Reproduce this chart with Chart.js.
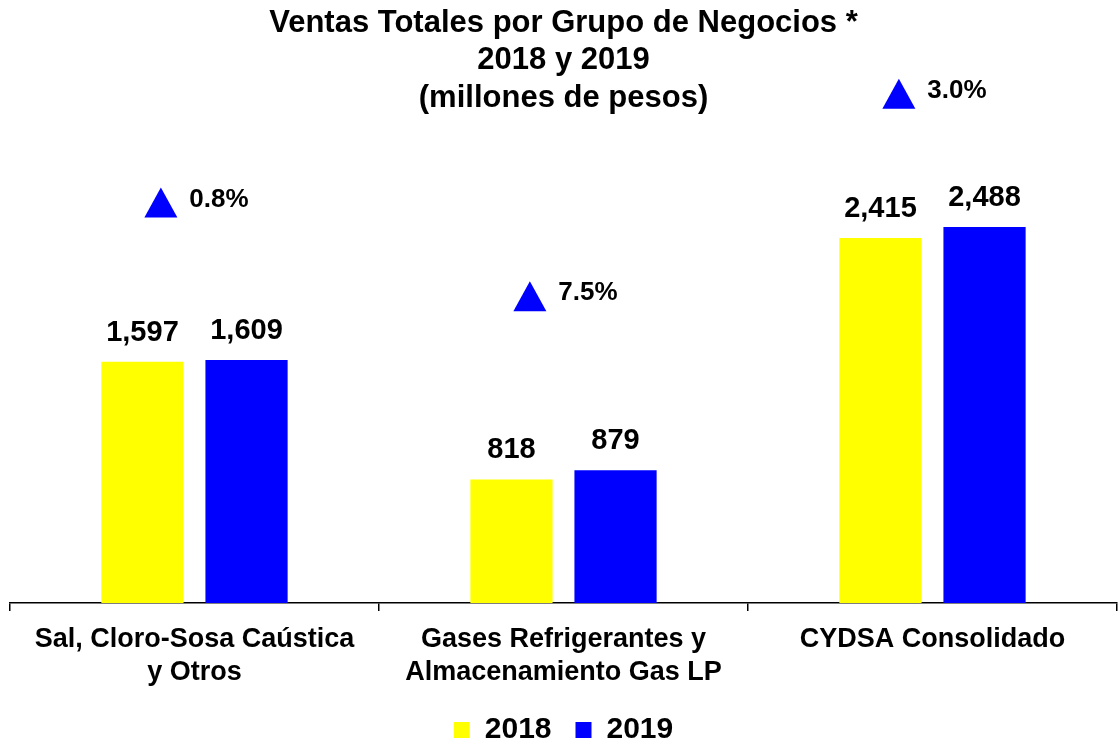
<!DOCTYPE html>
<html>
<head>
<meta charset="utf-8">
<script src="https://cdn.jsdelivr.net/npm/chart.js@4.4.1/dist/chart.umd.min.js"></script>
<style>
  html, body { margin: 0; padding: 0; background: #ffffff; }
  #wrap { width: 1120px; height: 745px; }
</style>
</head>
<body>
<div id="wrap"><canvas id="c" width="1120" height="745"></canvas></div>
<script>
// ---- data ----
const categories = [
  ['Sal, Cloro-Sosa Caústica', 'y Otros'],
  ['Gases Refrigerantes y', 'Almacenamiento Gas LP'],
  ['CYDSA Consolidado']
];
const seriesNames = ['2018', '2019'];
const sales2018 = [1597, 818, 2415];
const sales2019 = [1609, 879, 2488];
const changeLabels = ['0.8%', '7.5%', '3.0%'];
const changeLevels = [2650, 2030, 3370];   // level (in millions) where each change marker sits
const titleLines = ['Ventas Totales por Grupo de Negocios *', '2018 y 2019', '(millones de pesos)'];

const FONT = '"Liberation Sans", Arial, Helvetica, sans-serif';

const labelPlugin = {
  id: 'labels',
  afterDatasetsDraw(chart) {
    const ctx = chart.ctx;
    ctx.save();
    ctx.fillStyle = '#000';
    ctx.font = 'bold 29px ' + FONT;
    ctx.textAlign = 'center';
    ctx.textBaseline = 'alphabetic';
    chart.data.datasets.forEach((ds, di) => {
      const meta = chart.getDatasetMeta(di);
      meta.data.forEach((bar, i) => {
        ctx.fillText(ds.data[i].toLocaleString('en-US'), bar.x, bar.y - 21);
      });
    });
    // change markers
    const xs = chart.scales.x, ys = chart.scales.y;
    ctx.font = 'bold 26px ' + FONT;
    ctx.textAlign = 'left';
    changeLabels.forEach((txt, i) => {
      const cx = xs.getPixelForValue(i);
      const cy = ys.getPixelForValue(changeLevels[i]);
      const triW = 33, triH = 30, gap = 12;
      const tw = ctx.measureText(txt).width;
      const total = triW + gap + tw;
      const left = cx - total / 2 + 2;
      ctx.fillStyle = '#0000FF';
      ctx.beginPath();
      ctx.moveTo(left, cy + triH / 2);
      ctx.lineTo(left + triW / 2, cy - triH / 2);
      ctx.lineTo(left + triW, cy + triH / 2);
      ctx.closePath();
      ctx.fill();
      ctx.fillStyle = '#000';
      ctx.textBaseline = 'middle';
      ctx.fillText(txt, left + triW + gap, cy - 3);
    });
    ctx.restore();
  }
};

new Chart(document.getElementById('c'), {
  type: 'bar',
  data: {
    labels: categories,
    datasets: [
      { label: seriesNames[0], data: sales2018, backgroundColor: '#FFFF00', borderWidth: 0 },
      { label: seriesNames[1], data: sales2019, backgroundColor: '#0000FF', borderWidth: 0 }
    ]
  },
  options: {
    responsive: false,
    animation: false,
    devicePixelRatio: 1,
    categoryPercentage: 0.564,
    barPercentage: 0.79,
    layout: { padding: { left: 10, right: 3, top: 0, bottom: -10 } },
    plugins: {
      title: {
        display: true,
        text: titleLines,
        color: '#000',
        font: { family: FONT, size: 31, weight: 'bold', lineHeight: 1.2 },
        padding: { top: 5, bottom: 33 }
      },
      legend: {
        position: 'bottom',
        labels: {
          color: '#000',
          font: { family: FONT, size: 30, weight: 'bold' },
          boxWidth: 16,
          boxHeight: 16,
          padding: 24
        }
      },
      tooltip: { enabled: false }
    },
    scales: {
      x: {
        offset: true,
        grid: { offset: true, drawOnChartArea: false, drawTicks: true, tickLength: 8, color: '#000', lineWidth: 1.5 },
        border: { display: true, color: '#000', width: 1.5 },
        ticks: { color: '#000', font: { family: FONT, size: 27, weight: 'bold', lineHeight: 1.22 }, padding: 12, maxRotation: 0, autoSkip: false },
        afterFit: (scale) => { scale.height -= 10; }
      },
      y: {
        display: false,
        min: 0,
        max: 3000
      }
    }
  },
  plugins: [labelPlugin]
});
</script>
</body>
</html>
